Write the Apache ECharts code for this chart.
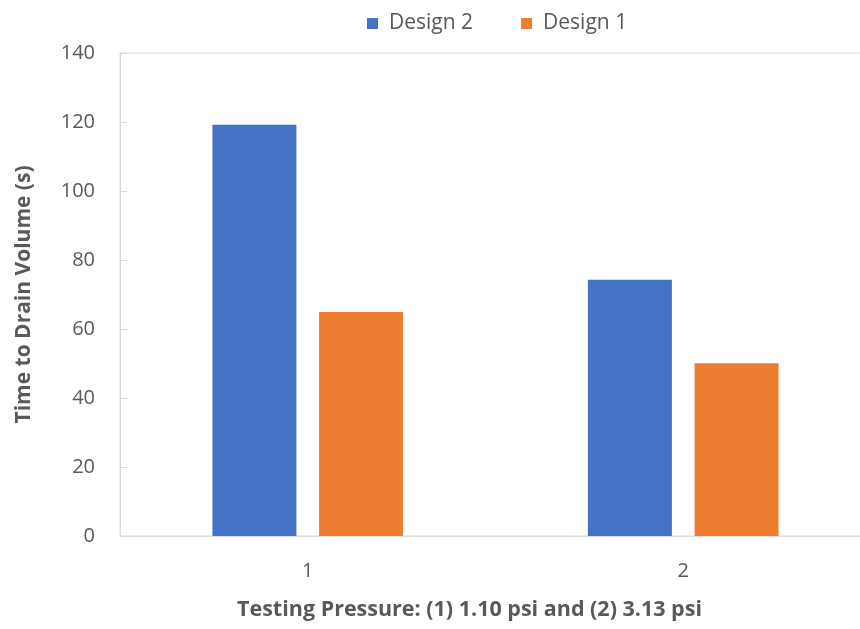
<!DOCTYPE html>
<html>
<head>
<meta charset="utf-8">
<script src="https://cdn.jsdelivr.net/npm/echarts@6/dist/echarts.min.js"></script>
<style>html,body{margin:0;padding:0;background:#fff;}#c{width:860px;height:629px;}</style>
</head>
<body>
<div id="c"></div>
<script>
const categories = ['1', '2'];
const design2 = [119.2, 74.3];
const design1 = [64.9, 50.1];
const seriesNames = ['Design 2', 'Design 1'];

const chart = echarts.init(document.getElementById('c'));
const font = '"Open Sans", "Noto Sans", sans-serif';
chart.setOption({
  animation: false,
  textStyle: { fontFamily: font },
  legend: {
    top: 8,
    left: 362,
    icon: 'rect',
    itemWidth: 11,
    itemHeight: 11,
    itemGap: 48,
    textStyle: { fontSize: 21, color: '#595959', fontFamily: font, padding: [0, 0, 0, 6] },
    data: seriesNames
  },
  grid: {
    left: 120, top: 53, bottom: 93, right: -11,
    outerBoundsMode: 'none',
    containLabel: false,
    show: true, borderColor: '#d9d9d9', borderWidth: 1
  },
  xAxis: {
    type: 'category',
    data: categories,
    name: 'Testing Pressure: (1) 1.10 psi and (2) 3.13 psi',
    nameLocation: 'middle',
    nameGap: 63,
    nameTextStyle: { fontSize: 21.5, fontWeight: 'bold', color: '#595959', fontFamily: font, padding: [0, 0, 0, -52] },
    axisLine: { lineStyle: { color: '#d9d9d9' } },
    axisTick: { show: false },
    axisLabel: { fontSize: 20, color: '#595959', margin: 25 }
  },
  yAxis: {
    type: 'value',
    min: 0, max: 140, interval: 20,
    name: 'Time to Drain Volume (s)',
    nameLocation: 'middle',
    nameGap: 85,
    nameTextStyle: { fontSize: 21, fontWeight: 'bold', color: '#595959', fontFamily: font },
    axisLine: { show: true, lineStyle: { color: '#d9d9d9' } },
    axisTick: { show: true, inside: true, length: 7, lineStyle: { color: '#d9d9d9' } },
    splitLine: { show: false },
    axisLabel: { fontSize: 20, color: '#595959', margin: 25 }
  },
  series: [
    { name: seriesNames[0], type: 'bar', data: design2, barWidth: 84, barGap: '27%',
      itemStyle: { color: '#4472C4' } },
    { name: seriesNames[1], type: 'bar', data: design1, barWidth: 84,
      itemStyle: { color: '#ED7D31' } }
  ]
});
</script>
</body>
</html>
